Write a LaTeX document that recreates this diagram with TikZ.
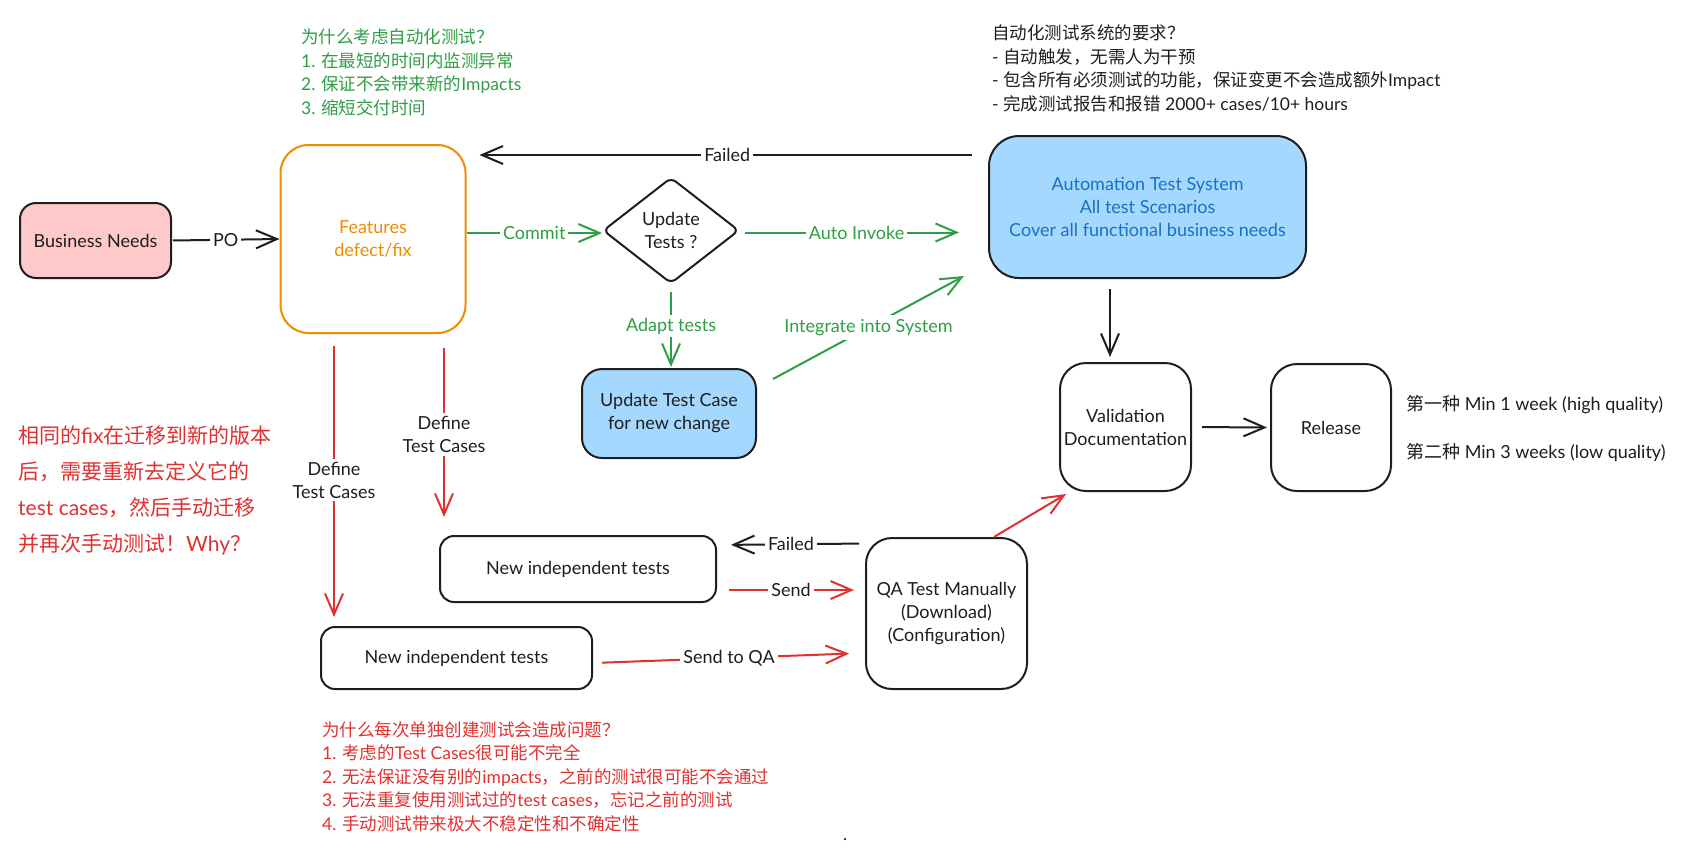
\documentclass[tikz,border=0pt]{standalone}
\usepackage{fontspec}
\setmainfont{Lato}
\newfontfamily\cjk{Noto Sans CJK SC}
\usetikzlibrary{arrows.meta,shapes.geometric}
\newcommand\zh[1]{{\cjk #1}}

\definecolor{ink}{HTML}{1E1E1E}
\definecolor{grn}{HTML}{2F9E44}
\definecolor{rd}{HTML}{E03131}
\definecolor{org}{HTML}{F08C00}
\definecolor{blu}{HTML}{1971C2}
\definecolor{skyfill}{HTML}{A5D8FF}
\definecolor{pinkfill}{HTML}{FFC9C9}

\tikzset{
  box/.style={draw=ink, line width=2pt, align=center, inner sep=0pt, text=ink,
    font=\fontsize{18}{23}\selectfont},
  lbl/.style={fill=white, inner sep=3pt, font=\fontsize{18}{21}\selectfont},
  arr/.style={line width=2pt, -{Straight Barb[length=21pt,width=18pt]}},
  note/.style={anchor=north west, align=left, inner sep=0pt},
}

\begin{document}
\begin{tikzpicture}[x=1pt,y=-1pt]
\useasboundingbox[fill=white] (0,0) rectangle (1685,863);

% ---- boxes ----
\node[box, fill=pinkfill, rounded corners=16pt, minimum width=151pt, minimum height=75pt]
  (bn) at (95.5,240.5) {Business Needs};
\node[box, draw=org, text=org, rounded corners=28pt, minimum width=185pt, minimum height=188pt]
  (feat) at (373,239) {Features\\defect/fix};
\node[box, diamond, rounded corners=6pt, minimum width=136pt, minimum height=106pt]
  (dia) at (671,230.5) {Update\\Tests ?};
\node[box, fill=skyfill, text=blu, rounded corners=30pt, minimum width=317pt, minimum height=142pt]
  (auto) at (1147.5,207) {Automation Test System\\All test Scenarios\\Cover all functional business needs};
\node[box, fill=skyfill, rounded corners=20pt, minimum width=174pt, minimum height=89pt]
  (utc) at (669,413.5) {Update Test Case\\for new change};
\node[box, rounded corners=26pt, minimum width=131pt, minimum height=128pt]
  (val) at (1125.5,427) {Validation\\Documentation};
\node[box, rounded corners=26pt, minimum width=120pt, minimum height=127pt]
  (rel) at (1331,427.5) {Release};
\node[box, rounded corners=14pt, minimum width=276pt, minimum height=66pt]
  (nit1) at (578,569) {New independent tests};
\node[box, rounded corners=14pt, minimum width=271pt, minimum height=62pt]
  (nit2) at (456.5,658) {New independent tests};
\node[box, rounded corners=26pt, minimum width=161pt, minimum height=151pt]
  (qa) at (946.5,613.5) {QA Test Manually\\(Download)\\(Configuration)};

% ---- connectors ----
\draw[arr, ink, shorten <=1pt] (bn.east) -- (feat.west) node[lbl, midway] {PO};
\draw[arr, grn] ([yshift=-2.5pt]feat.east |- dia.west) -- ([yshift=-2.5pt]dia.west)
  node[lbl, midway] {Commit};
\draw[arr, grn, shorten <=5pt, shorten >=29pt] ([yshift=-2pt]dia.east) -- ([yshift=-2pt]auto.west |- dia.east)
  node[lbl, pos=0.47] {Auto Invoke};
\draw[arr, ink, shorten <=16pt, shorten >=13pt] ([yshift=52pt]auto.west) -- ([yshift=84pt]feat.east)
  node[lbl, midway] {Failed};
\draw[arr, grn, shorten <=7pt, shorten >=1pt] (dia.south) -- (dia.south |- utc.north)
  node[lbl, midway] {Adapt tests};
\draw[arr, grn] ([xshift=16pt,yshift=-11pt]utc.north east) -- ([xshift=-24pt,yshift=3pt]auto.south west)
  node[lbl, midway, inner sep=4pt] {Integrate into System};
\draw[arr, ink] ([xshift=-37.5pt,yshift=-10pt]auto.south) -- ([xshift=-15.5pt,yshift=5pt]val.north);
\draw[arr, ink, shorten <=10pt, shorten >=3pt] (val.east) -- (rel.west);
\draw[arr, rd] ([xshift=47.5pt]qa.north) -- ([xshift=7pt,yshift=-2pt]val.south west);
\draw[arr, ink, shorten <=6pt, shorten >=14pt] ([yshift=70pt]qa.west) -- ([yshift=24pt]nit1.east)
  node[lbl, midway] {Failed};
\draw[arr, rd, shorten <=12pt, shorten >=11pt] ([yshift=-21pt]nit1.east) -- ([yshift=23.5pt]qa.west)
  node[lbl, midway, text=ink] {Send};
\draw[arr, rd, shorten <=9pt, shorten >=16pt] ([yshift=-5pt]nit2.east) -- ([yshift=-39.5pt]qa.west)
  node[lbl, midway, text=ink] {Send to QA};
\draw[arr, rd, shorten <=12pt, shorten >=9pt] ([xshift=-39pt]feat.south) -- ([xshift=-39pt]feat.south |- nit2.north)
  node[lbl, midway, align=center, text=ink, font=\fontsize{18}{23}\selectfont] {Define\\Test Cases};
\draw[arr, rd, shorten <=14pt, shorten >=18pt] ([xshift=71pt]feat.south) -- ([xshift=71pt]feat.south |- nit1.north)
  node[lbl, midway, align=center, text=ink, font=\fontsize{18}{23}\selectfont] {Define\\Test Cases};

% ---- notes ----
\node[note, text=grn, font=\fontsize{17.5}{23.5}\selectfont] (whyauto) at (301,29)
  {\zh{为什么考虑自动化测试？}\\1. \zh{在最短的时间内监测异常}\\2. \zh{保证不会带来新的}Impacts\\3. \zh{缩短交付时间}};
\node[note, text=ink, font=\fontsize{17.5}{23.5}\selectfont] (req) at (992,25)
  {\zh{自动化测试系统的要求？}\\- \zh{自动触发，无需人为干预}\\- \zh{包含所有必须测试的功能，保证变更不会造成额外}Impact\\- \zh{完成测试报告和报错} 2000+ cases/10+ hours};
\node[note, text=rd, font=\fontsize{21}{36}\selectfont] (same) at (18,426)
  {\zh{相同的}fix\zh{在迁移到新的版本}\\\zh{后，需要重新去定义它的}\\test cases\zh{，然后手动迁移}\\\zh{并再次手动测试！}Why\zh{？}};
\node[note, text=rd, font=\fontsize{17.5}{23.5}\selectfont] (whyprob) at (322,721)
  {\zh{为什么每次单独创建测试会造成问题？}\\1. \zh{考虑的}Test Cases\zh{很可能不完全}\\2. \zh{无法保证没有别的}impacts\zh{，之前的测试很可能不会通过}\\3. \zh{无法重复使用测试过的}test cases\zh{，忘记之前的测试}\\4. \zh{手动测试带来极大不稳定性和不确定性}};
\node[anchor=west, inner sep=0pt, text=ink, font=\fontsize{18}{20}\selectfont] (q1) at (1406,405)
  {\zh{第一种} Min 1 week (high quality)};
\node[anchor=west, inner sep=0pt, text=ink, font=\fontsize{18}{20}\selectfont] (q2) at (1406,452)
  {\zh{第二种} Min 3 weeks (low quality)};
\node[circle, fill=ink, inner sep=0pt, minimum size=2.5pt] (dot) at (845,839) {};
\end{tikzpicture}
\end{document}
